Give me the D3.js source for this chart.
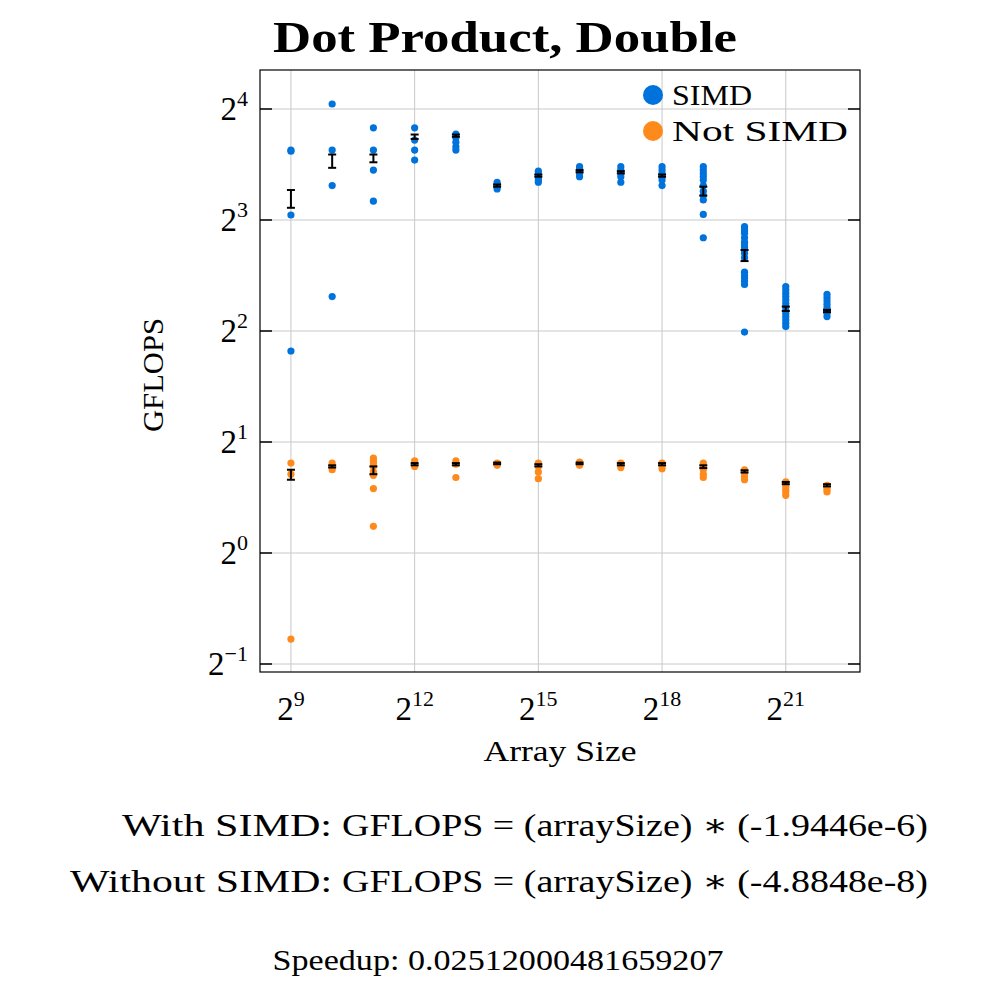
<!DOCTYPE html>
<html><head><meta charset="utf-8">
<script src="https://cdn.jsdelivr.net/npm/d3@7"></script>
<style>body{margin:0;background:#fff}</style></head>
<body><svg id="c" width="1000" height="1000"></svg>
<script>
// x: log2(array size); y: log2(GFLOPS)
const sizesLog2 = [9,10,11,12,13,14,15,16,17,18,19,20,21,22];
const simdPts = [
 [3.63,3.62,3.045,1.82],
 [4.045,3.63,3.31,2.31],
 [3.83,3.63,3.45,3.17],
 [3.83,3.72,3.63,3.54],
 [3.775,3.74,3.70,3.66,3.63],
 [3.34,3.32,3.30,3.28],
 [3.44,3.41,3.38,3.36,3.34],
 [3.48,3.46,3.44,3.42,3.39],
 [3.48,3.45,3.42,3.39,3.34],
 [3.48,3.45,3.42,3.39,3.36,3.31],
 [3.48,3.45,3.42,3.39,3.36,3.31,3.26,3.22,3.18,3.05,2.84],
 [2.94,2.92,2.90,2.88,2.84,2.80,2.775,2.75,2.73,2.70,2.66,2.53,2.50,2.48,2.45,2.42,1.99],
 [2.40,2.37,2.34,2.31,2.28,2.25,2.22,2.19,2.16,2.13,2.10,2.07,2.04],
 [2.33,2.30,2.27,2.24,2.21,2.19,2.16,2.13]
];
const simdErr = [[3.27,3.11],[3.59,3.47],[3.59,3.52],[3.77,3.73],[3.77,3.75],[3.32,3.30],[3.41,3.39],[3.45,3.43],[3.44,3.42],[3.41,3.39],[3.30,3.22],[2.73,2.63],[2.22,2.18],[2.19,2.17]];
const noPts = [
 [0.81,0.71,-0.775],
 [0.81,0.78,0.75],
 [0.856,0.83,0.81,0.78,0.73,0.70,0.58,0.24],
 [0.83,0.80,0.78],
 [0.83,0.80,0.68],
 [0.81,0.80,0.79],
 [0.81,0.80,0.78,0.73,0.67],
 [0.82,0.80,0.79],
 [0.81,0.79,0.77],
 [0.81,0.79,0.76],
 [0.81,0.78,0.75,0.71,0.68],
 [0.75,0.72,0.69,0.66],
 [0.64,0.62,0.60,0.57,0.55,0.52],
 [0.61,0.59,0.57,0.55]
];
const noErr = [[0.75,0.66],[0.79,0.77],[0.78,0.71],[0.81,0.79],[0.81,0.79],[0.815,0.80],[0.80,0.78],[0.815,0.80],[0.81,0.79],[0.81,0.79],[0.79,0.765],[0.745,0.725],[0.64,0.62],[0.62,0.60]];
const xTicks = [9,12,15,18,21];
const yTicks = [-1,0,1,2,3,4];
const title = "Dot Product, Double";
const eqLines = [["With SIMD:","GFLOPS = (arraySize) ∗ (-1.9446e-6)"],["Without SIMD:","GFLOPS = (arraySize) ∗ (-4.8848e-8)"]];
const speedup = "Speedup: 0.02512000481659207";
const blue = "#0072dc", orange = "#ff8a1c";

const svg = d3.select("#c");
const F = "'Liberation Serif','DejaVu Serif',serif";
const L=260,R=860,T=70,B=672;
const x = d3.scaleLinear().domain([8.25,22.8]).range([L,R]);
const y = d3.scaleLinear().domain([4-(B-109)/111, 4-(T-109)/111]).range([B,T]);

const g = svg.append("g");
g.selectAll(".gx").data(xTicks).join("line").attr("x1",d=>x(d)).attr("x2",d=>x(d)).attr("y1",T).attr("y2",B).attr("stroke","#c8c8c8");
g.selectAll(".gy").data(yTicks).join("line").attr("x1",L).attr("x2",R).attr("y1",d=>y(d)).attr("y2",d=>y(d)).attr("stroke","#c8c8c8");
g.selectAll(".tl").data(yTicks).join("line").attr("x1",L).attr("x2",L+12).attr("y1",d=>y(d)).attr("y2",d=>y(d)).attr("stroke","#000").attr("stroke-width",1.5);
g.selectAll(".tr").data(yTicks).join("line").attr("x1",R-12).attr("x2",R).attr("y1",d=>y(d)).attr("y2",d=>y(d)).attr("stroke","#000").attr("stroke-width",1.5);
g.append("rect").attr("x",L).attr("y",T).attr("width",R-L).attr("height",B-T).attr("fill","none").attr("stroke","#000").attr("stroke-width",1.2);

function series(pts,err,col){
  sizesLog2.forEach((s,i)=>{
    g.selectAll(null).data(pts[i]).join("circle").attr("cx",x(s)).attr("cy",d=>y(d)).attr("r",3.6).attr("fill",col);
  });
  sizesLog2.forEach((s,i)=>{
    const [hi,lo]=err[i], cx=x(s);
    g.append("line").attr("x1",cx).attr("x2",cx).attr("y1",y(hi)).attr("y2",y(lo)).attr("stroke","#000").attr("stroke-width",2);
    [hi,lo].forEach(v=>g.append("line").attr("x1",cx-4).attr("x2",cx+4).attr("y1",y(v)).attr("y2",y(v)).attr("stroke","#000").attr("stroke-width",2));
  });
}
series(simdPts,simdErr,blue);
series(noPts,noErr,orange);

function txt(s,xx,yy,size,anchor,len,bold){
  const t=svg.append("text").attr("x",xx).attr("y",yy).attr("text-anchor",anchor).attr("font-family",F).attr("font-size",size).text(s);
  if(len) t.attr("textLength",len).attr("lengthAdjust","spacingAndGlyphs");
  if(bold) t.attr("font-weight","bold");
  return t;
}
function pow(base,exp,xx,yy,anchor){
  const t=svg.append("text").attr("x",xx).attr("y",yy).attr("text-anchor",anchor).attr("font-family",F).attr("font-size",33);
  t.append("tspan").text(base);
  t.append("tspan").attr("dy",-14).attr("font-size",22).text(exp);
}
xTicks.forEach(d=>pow("2",d,x(d),720,"middle"));
yTicks.forEach(d=>pow("2",d===-1?"−1":d,L-12,y(d)+11,"end"));

txt(title,505,52,44,"middle",464,true);
txt("Array Size",560,761,30,"middle",153);
svg.append("text").attr("transform","translate(163,375) rotate(-90)").attr("text-anchor","middle").attr("font-family",F).attr("font-size",30).attr("textLength",114).attr("lengthAdjust","spacingAndGlyphs").text("GFLOPS");

[["SIMD",blue,80],["Not SIMD",orange,176]].forEach(([t,c,w],i)=>{
  svg.append("circle").attr("cx",653).attr("cy",95+i*36).attr("r",10).attr("fill",c);
  txt(t,672,105+i*36,30,"start",w);
});

const eqW=[[210,586],[262,586]];
eqLines.forEach(([a,b],i)=>{
  txt(a,332,836+i*56,31,"end",eqW[i][0]);
  txt(b,342,836+i*56,31,"start",eqW[i][1]);
});
txt(speedup,498,970,29,"middle",451);
</script></body></html>
